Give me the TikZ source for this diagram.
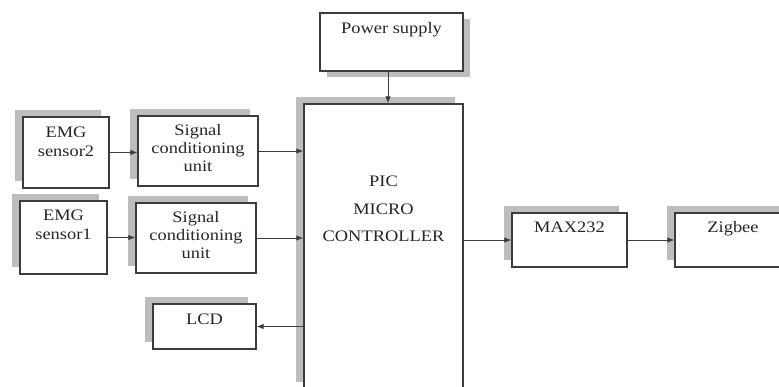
\documentclass[tikz,border=0pt]{standalone}
\usepackage{fontspec}
\setmainfont{Liberation Serif}[FakeStretch=1.15]
\usepackage{xcolor}
\definecolor{cLine}{HTML}{3C3C3C}
\definecolor{cShadow}{HTML}{BDBDBD}
\definecolor{cText}{HTML}{262626}
\usepackage{tikz}
\usetikzlibrary{positioning,arrows.meta,shadows}
\tikzset{
  node-box/.style={draw=cLine,line width=1.3pt,fill=white,inner sep=0pt,
    align=center,text=cText,font=\fontsize{16}{18}\selectfont},
  shadow-ul/.style={general shadow={fill=cShadow,shadow xshift=-8pt,shadow yshift=7pt}},
  shadow-lr/.style={general shadow={fill=cShadow,shadow xshift=7pt,shadow yshift=-6pt}},
  arrow/.style={-{Latex[length=7pt,width=5.5pt]},line width=0.9pt,draw=cLine},
}
\begin{document}
\begin{tikzpicture}[x=1pt,y=-1pt]
  \useasboundingbox (0,0) rectangle (779,387);

  \node[node-box,shadow-lr,minimum width=143pt,text height=21pt,text depth=37pt]
    (ps) at (391.5,42) {Power supply};
  \node[node-box,shadow-ul,minimum width=159pt,text height=138pt,text depth=147pt,
    font=\fontsize{16}{27.5}\selectfont]
    (pic) at (383.5,246.5) {PIC\\MICRO\\CONTROLLER};

  % text height/depth of multi-line nodes count from the last line
  \node[node-box,shadow-ul,minimum width=86pt,text height=40pt,text depth=31pt,
    font=\fontsize{16}{19}\selectfont]
    (emg2) at (66,152.5) {EMG\\sensor2};
  \node[node-box,shadow-ul,minimum width=120pt,text height=56pt,text depth=14pt]
    (sc2) at (198,151) {Signal\\conditioning\\unit};
  \node[node-box,shadow-ul,minimum width=87pt,text height=39pt,text depth=34pt,
    font=\fontsize{16}{19}\selectfont]
    (emg1) at (63.5,237.5) {EMG\\sensor1};
  \node[node-box,shadow-ul,minimum width=120pt,text height=56pt,text depth=14pt]
    (sc1) at (196,238) {Signal\\conditioning\\unit};
  \node[node-box,shadow-ul,minimum width=103pt,text height=20pt,text depth=25pt]
    (lcd) at (204.5,326.5) {LCD};

  \node[node-box,shadow-ul,minimum width=115pt,text height=20pt,text depth=34pt]
    (max) at (569.5,240) {MAX232};
  \node[node-box,shadow-ul,minimum width=116pt,text height=20pt,text depth=34pt]
    (zig) at (733,240) {Zigbee};

  \draw[arrow] ([xshift=-3.5pt]ps.south) -- ([xshift=-3.5pt]ps.south |- pic.north);
  \draw[arrow] (emg2.east) -- (emg2.east -| sc2.west);
  \draw[arrow] (sc2.east) -- (sc2.east -| pic.west);
  \draw[arrow] (emg1.east) -- (emg1.east -| sc1.west);
  \draw[arrow] (sc1.east) -- (sc1.east -| pic.west);
  \draw[arrow] (pic.west |- lcd.east) -- (lcd.east);
  \draw[arrow] (pic.east |- max.west) -- (max.west);
  \draw[arrow] (max.east) -- (zig.west);
\end{tikzpicture}
\end{document}
